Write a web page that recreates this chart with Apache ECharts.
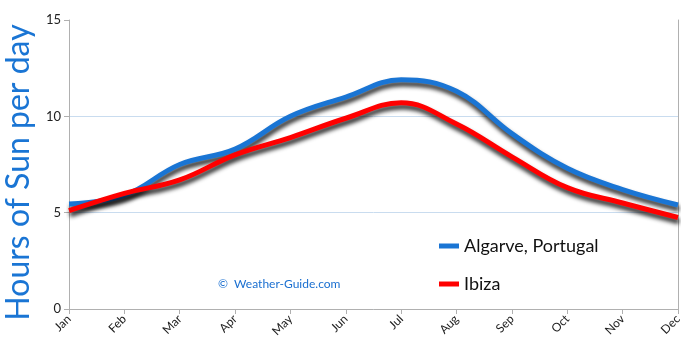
<!DOCTYPE html>
<html>
<head>
<meta charset="utf-8">
<script src="https://cdn.jsdelivr.net/npm/echarts@6/dist/echarts.min.js"></script>
<style>
  html, body { margin: 0; padding: 0; background: #fff; }
</style>
</head>
<body>
<div id="main" style="width: 690px;height:353px;"></div>
<script type="text/javascript">
    // data
    var months = ['Jan', 'Feb', 'Mar', 'Apr', 'May', 'Jun', 'Jul', 'Aug', 'Sep', 'Oct', 'Nov', 'Dec'];
    var algarve = [5.45, 5.9, 7.5, 8.3, 10.0, 11.0, 11.9, 11.3, 9.1, 7.3, 6.2, 5.4];
    var ibiza = [5.1, 6.0, 6.7, 8.0, 8.9, 9.9, 10.7, 9.6, 7.9, 6.3, 5.5, 4.75];
    var yTicks = [0, 5, 10, 15];

    var myChart = echarts.init(document.getElementById('main'));

    function lineSeries(name, color, values) {
        return {
            name: name,
            type: 'line',
            smooth: 0.4,
            symbol: 'none',
            data: values,
            lineStyle: {
                width: 5,
                color: color,
                shadowColor: 'rgba(0,0,0,0.85)',
                shadowBlur: 4,
                shadowOffsetX: 1,
                shadowOffsetY: 4
            },
            itemStyle: { color: color }
        };
    }

    var option = {
        animation: false,
        grid: { left: 69, right: 12, top: 20, bottom: 44, outerBoundsMode: 'none', containLabel: false },
        legend: {
            orient: 'vertical',
            left: 434,
            top: 232,
            itemWidth: 20,
            itemHeight: 5,
            itemGap: 20,
            icon: 'rect',
            textStyle: { fontFamily: 'Lato', fontSize: 18, color: '#111' },
            data: ['Algarve, Portugal', 'Ibiza']
        },
        graphic: [{
            type: 'text',
            left: 218,
            top: 278,
            style: {
                text: '©  Weather-Guide.com',
                fill: '#1a6fd0',
                font: '12px Lato'
            }
        }],
        xAxis: {
            type: 'category',
            boundaryGap: false,
            data: months,
            axisLine: { lineStyle: { color: '#b0b0b0' } },
            axisTick: { show: true, alignWithLabel: true, length: 5, lineStyle: { color: '#b0b0b0' } },
            axisLabel: { rotate: 45, color: '#222', fontSize: 12, fontFamily: 'Lato', margin: 8, interval: 0 }
        },
        yAxis: [{
            type: 'value',
            min: yTicks[0],
            max: yTicks[yTicks.length - 1],
            interval: 5,
            name: 'Hours of Sun per day',
            nameLocation: 'middle',
            nameGap: 28,
            nameTextStyle: { color: '#1a75d4', fontSize: 32, fontFamily: 'Lato', padding: [0, 16, 0, 0] },
            axisLine: { show: true, lineStyle: { color: '#b0b0b0' } },
            axisTick: { show: true, length: 5, lineStyle: { color: '#b0b0b0' } },
            axisLabel: { color: '#222', fontSize: 13, fontFamily: 'Lato', margin: 8 },
            splitLine: { lineStyle: { color: ['#c9dcef', '#c9dcef', '#c9dcef', 'rgba(0,0,0,0)'] } }
        }, {
            type: 'value',
            position: 'right',
            min: yTicks[0],
            max: yTicks[yTicks.length - 1],
            interval: 5,
            axisLine: { show: true, lineStyle: { color: '#b0b0b0' } },
            axisTick: { show: false },
            axisLabel: { show: false },
            splitLine: { show: false }
        }],
        series: [
            lineSeries('Algarve, Portugal', '#1a75d4', algarve),
            lineSeries('Ibiza', '#ff0000', ibiza)
        ]
    };
    myChart.setOption(option);
</script>
</body>
</html>
